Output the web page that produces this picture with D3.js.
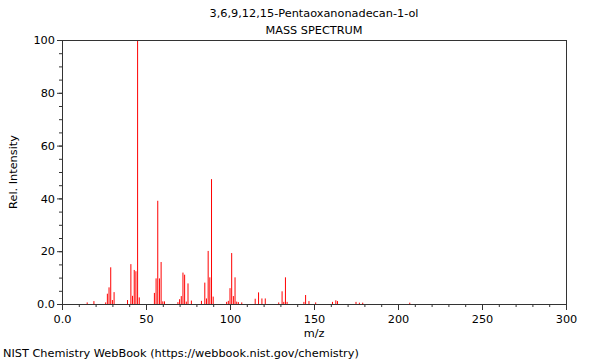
<!DOCTYPE html>
<html>
<head>
<meta charset="utf-8">
<script src="https://cdn.jsdelivr.net/npm/d3@7"></script>
<style>
  body { margin: 0; background: #fff; }
  svg { display: block; }
  text { font-family: "DejaVu Sans", sans-serif; fill: #000; }
</style>
</head>
<body>
<svg id="chart" width="600" height="360"></svg>
<script>
const titleLines = ["3,6,9,12,15-Pentaoxanonadecan-1-ol", "MASS SPECTRUM"];
const xLabel = "m/z";
const yLabel = "Rel. Intensity";
const footer = "NIST Chemistry WebBook (https://webbook.nist.gov/chemistry)";

const mz = [15,19,26,27,28,29,30,31,39,41,42,43,44,45,46,55,56,57,58,59,60,61,69,70,71,72,73,74,75,77,83,85,86,87,88,89,90,98,99,100,101,102,103,104,105,107,115,117,119,121,129,131,132,133,134,144,145,147,151,161,163,164,175,177,179,207];
const intensity = [0.6,1.1,0.6,3.9,6.3,13.9,1.5,4.5,1.5,15.1,3.1,12.9,12.4,100,2.5,4.2,9.7,39.1,9.7,15.9,1.0,1.0,0.7,1.8,3.0,11.9,11.1,0.9,7.8,1.3,1.2,8.1,2.1,20.1,10.1,47.3,2.8,0.8,1.2,6.0,19.3,3.0,10.1,0.9,0.7,0.6,2.0,4.4,2.1,2.1,0.6,4.8,0.8,10.1,0.8,0.8,3.4,1.1,0.6,0.8,1.4,1.1,0.8,0.5,0.5,0.5];

const xMajorTicks = [0,50,100,150,200,250,300];
const xTickLabels = ["0.0","50","100","150","200","250","300"];
const yMajorTicks = [0,20,40,60,80,100];
const yTickLabels = ["0.0","20","40","60","80","100"];

const peaks = mz.map((m, i) => ({ m, v: intensity[i] }));

const FS = 11.3;
const svg = d3.select("#chart");
const margin = { left: 62, top: 40, right: 34, bottom: 56 };
const W = 600 - margin.left - margin.right;
const H = 360 - margin.top - margin.bottom;

const x = d3.scaleLinear().domain([0, 300]).range([0, W]);
const y = d3.scaleLinear().domain([0, 100]).range([H, 0]);

const g = svg.append("g").attr("transform", `translate(${margin.left},${margin.top})`);

// peaks
g.append("g").selectAll("line").data(peaks).join("line")
  .attr("x1", d => x(d.m)).attr("x2", d => x(d.m))
  .attr("y1", y(0)).attr("y2", d => y(d.v))
  .attr("stroke", "#ff0000").attr("stroke-width", 1);

const axisColor = "#333";

// minor ticks
const xAxisMinor = d3.axisBottom(x).tickValues(d3.range(0, 301, 10)).tickSize(3).tickFormat("");
const yAxisMinor = d3.axisLeft(y).tickValues(d3.range(0, 101, 5)).tickSize(3).tickFormat("");
g.append("g").attr("transform", `translate(0,${H})`).call(xAxisMinor)
  .call(s => s.select(".domain").remove())
  .call(s => s.selectAll("line").attr("stroke", axisColor));
g.append("g").call(yAxisMinor)
  .call(s => s.select(".domain").remove())
  .call(s => s.selectAll("line").attr("stroke", axisColor));

// major axes
const xAxis = d3.axisBottom(x).tickValues(xMajorTicks).tickSize(6).tickSizeOuter(0)
  .tickFormat((d, i) => xTickLabels[i]);
const yAxis = d3.axisLeft(y).tickValues(yMajorTicks).tickSize(5).tickSizeOuter(0)
  .tickFormat((d, i) => yTickLabels[i]);

g.append("g").attr("transform", `translate(0,${H})`).call(xAxis)
  .call(s => s.select(".domain").attr("stroke", axisColor))
  .call(s => s.selectAll("line").attr("stroke", axisColor))
  .call(s => s.selectAll("text").attr("font-size", FS).attr("font-family", "DejaVu Sans").attr("fill", "#000").attr("dy", "0.9em"));
g.append("g").call(yAxis)
  .call(s => s.select(".domain").attr("stroke", axisColor))
  .call(s => s.selectAll("line").attr("stroke", axisColor))
  .call(s => s.selectAll("text").attr("font-size", FS).attr("font-family", "DejaVu Sans").attr("fill", "#000").attr("x", -7));

// frame top & right
g.append("line").attr("x1", 0).attr("x2", W).attr("y1", 0.5).attr("y2", 0.5).attr("stroke", axisColor);
g.append("line").attr("x1", W + 0.5).attr("x2", W + 0.5).attr("y1", 0).attr("y2", H).attr("stroke", axisColor);

// titles
svg.append("text").attr("x", margin.left + W / 2).attr("y", 17).attr("text-anchor", "middle")
  .attr("font-size", FS).text(titleLines[0]);
svg.append("text").attr("x", margin.left + W / 2).attr("y", 34).attr("text-anchor", "middle")
  .attr("font-size", FS).text(titleLines[1]);

svg.append("text").attr("x", margin.left + W / 2).attr("y", 337).attr("text-anchor", "middle")
  .attr("font-size", FS).text(xLabel);
svg.append("text").attr("transform", `translate(13,${margin.top + H / 2}) rotate(-90)`)
  .attr("text-anchor", "middle").attr("dy", "0.35em").attr("font-size", FS).text(yLabel);
svg.append("text").attr("x", 3).attr("y", 357).attr("font-size", FS).text(footer);
</script>
</body>
</html>
